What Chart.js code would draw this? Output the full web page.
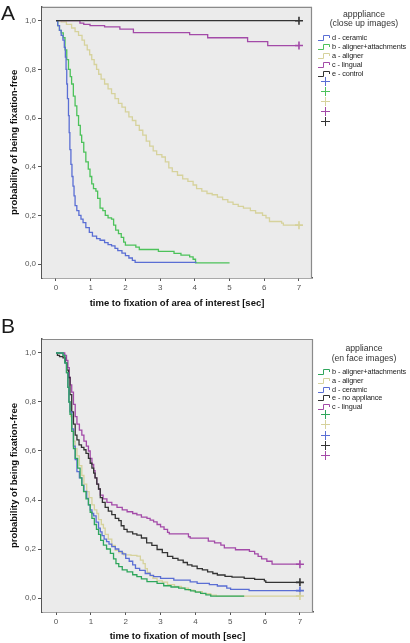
<!DOCTYPE html>
<html>
<head>
<meta charset="utf-8">
<script src="https://cdn.jsdelivr.net/npm/chart.js@4.4.1/dist/chart.umd.min.js"></script>
<style>
body{margin:0;background:#fff;font-family:"Liberation Sans",Arial,sans-serif;}
#wrap{position:relative;width:410px;height:643px;overflow:hidden;}
canvas{position:absolute;left:0;}
#cA{top:0;}
#cB{top:310px;}
.panel{position:absolute;left:1px;font-size:21px;line-height:21px;color:#1a1a1a;}
.ttl{position:absolute;left:318px;width:92px;text-align:center;font-size:8.7px;color:#333;white-space:nowrap;}
.row{position:absolute;left:318px;height:9px;font-size:7.3px;line-height:9px;color:#222;white-space:nowrap;}
.row svg,.plus svg{position:absolute;left:0;top:0;}
.row span{position:absolute;left:14px;top:0;letter-spacing:-0.1px;}
.plus{position:absolute;left:318px;width:14px;height:9px;}
</style>
</head>
<body>
<div id="wrap">
<canvas id="cA" width="410" height="310"></canvas>
<canvas id="cB" width="410" height="333"></canvas>
<div class="panel" style="top:2px">A</div>
<div class="panel" style="top:315px">B</div>
<div id="legA"></div>
<div id="legB"></div>
</div>
<script>
/* axes */
const xTicks=[0,1,2,3,4,5,6,7];
const yTicks=[0,0.2,0.4,0.6,0.8,1.0];

/* colours */
const blue="#5a6ed4", greenA="#4cc25a", greenB="#2fa65c", khaki="#d6d29c", purple="#a34aa8", black="#333333";

/* A: close up images - area of interest */
const aCeramicT=[0,0.05,0.1,0.15,0.2,0.24,0.27,0.29,0.31,0.33,0.36,0.38,0.4,0.43,0.46,0.49,0.52,0.55,0.6,0.66,0.72,0.78,0.86,0.96,1.05,1.17,1.27,1.4,1.5,1.6,1.7,1.78,1.9,2.0,2.1,2.2,2.28,4.05];
const aCeramicS=[1,0.98,0.96,0.94,0.92,0.89,0.85,0.8,0.74,0.68,0.61,0.54,0.47,0.41,0.36,0.32,0.28,0.24,0.22,0.2,0.185,0.17,0.15,0.13,0.115,0.105,0.098,0.088,0.08,0.075,0.065,0.055,0.045,0.035,0.025,0.015,0.007,0.007];
const aAttachT=[0,0.05,0.1,0.15,0.21,0.26,0.31,0.36,0.41,0.45,0.5,0.55,0.6,0.65,0.7,0.74,0.8,0.86,0.93,0.98,1.03,1.08,1.15,1.2,1.27,1.35,1.42,1.5,1.6,1.66,1.72,1.8,1.88,1.95,2.0,2.3,2.4,2.95,3.4,3.6,3.85,3.95,4.02,5.0];
const aAttachS=[1,0.98,0.96,0.95,0.93,0.88,0.84,0.8,0.77,0.74,0.69,0.65,0.61,0.57,0.53,0.5,0.46,0.42,0.39,0.36,0.33,0.31,0.3,0.27,0.23,0.22,0.2,0.19,0.185,0.16,0.14,0.125,0.11,0.09,0.078,0.07,0.06,0.052,0.044,0.037,0.03,0.02,0.005,0.005];
const aAlignerT=[0,0.15,0.3,0.45,0.55,0.65,0.75,0.82,0.9,0.97,1.03,1.1,1.17,1.23,1.3,1.4,1.5,1.6,1.7,1.8,1.9,2.0,2.1,2.2,2.3,2.4,2.5,2.6,2.7,2.8,2.9,3.05,3.15,3.25,3.35,3.5,3.65,3.8,3.95,4.05,4.2,4.35,4.5,4.65,4.8,4.95,5.1,5.25,5.4,5.6,5.75,5.95,6.05,6.15,6.5,6.55,7];
const aAlignerS=[1,0.995,0.985,0.97,0.955,0.94,0.92,0.9,0.88,0.86,0.84,0.82,0.8,0.78,0.76,0.74,0.72,0.7,0.68,0.66,0.645,0.625,0.605,0.59,0.57,0.55,0.53,0.505,0.485,0.465,0.45,0.44,0.42,0.395,0.38,0.365,0.35,0.34,0.325,0.31,0.3,0.29,0.285,0.275,0.265,0.255,0.245,0.237,0.23,0.22,0.21,0.2,0.19,0.175,0.168,0.16,0.16];
const aLingualT=[0,0.69,0.8,0.98,1.4,1.84,2.23,3.85,4.37,5.52,6.1,7];
const aLingualS=[1,0.99,0.985,0.98,0.975,0.965,0.951,0.943,0.93,0.914,0.898,0.898];
const aControlT=[0,7];
const aControlS=[1,1];
const aCensT=[7,7,7];
const aCensS=[1,0.898,0.16];

/* B: en face images - mouth */
const bAttachT=[0,0.2,0.25,0.3,0.34,0.37,0.4,0.45,0.5,0.55,0.62,0.69,0.74,0.79,0.86,0.93,0.98,1.03,1.1,1.16,1.22,1.28,1.36,1.45,1.56,1.65,1.72,1.8,1.9,2.04,2.2,2.32,2.45,2.61,2.9,3.09,3.3,3.52,3.7,3.86,4.0,4.15,4.3,4.44,5.4];
const bAttachS=[1,0.99,0.96,0.92,0.86,0.8,0.75,0.68,0.61,0.57,0.53,0.49,0.46,0.434,0.405,0.38,0.35,0.325,0.3,0.28,0.26,0.235,0.216,0.2,0.182,0.16,0.14,0.128,0.115,0.107,0.095,0.087,0.078,0.067,0.06,0.05,0.045,0.04,0.034,0.029,0.024,0.019,0.013,0.008,0.008];
const bAlignerT=[0,0.22,0.27,0.31,0.35,0.38,0.42,0.46,0.5,0.55,0.6,0.67,0.74,0.8,0.88,0.95,1.03,1.1,1.17,1.22,1.3,1.36,1.41,1.5,1.6,1.7,1.8,1.94,2.15,2.32,2.42,2.5,2.56,2.62,2.7,2.78,2.9,3.05,3.2,3.4,3.6,3.8,3.96,4.2,4.44,4.6,7];
const bAlignerS=[1,0.99,0.96,0.92,0.86,0.8,0.74,0.68,0.64,0.61,0.58,0.54,0.5,0.465,0.434,0.41,0.38,0.36,0.345,0.32,0.3,0.285,0.26,0.24,0.215,0.195,0.185,0.176,0.174,0.171,0.155,0.14,0.12,0.105,0.09,0.08,0.07,0.065,0.055,0.047,0.04,0.032,0.026,0.018,0.012,0.008,0.008];
const bCeramicT=[0,0.2,0.25,0.3,0.34,0.37,0.4,0.45,0.5,0.55,0.6,0.67,0.74,0.8,0.88,0.93,0.98,1.03,1.08,1.15,1.22,1.27,1.32,1.38,1.45,1.52,1.6,1.7,1.8,1.9,2.0,2.1,2.2,2.28,2.4,2.56,2.7,2.8,3.0,3.38,3.85,4.05,4.4,4.63,4.9,5.01,5.54,7];
const bCeramicS=[1,0.99,0.96,0.92,0.86,0.8,0.76,0.69,0.62,0.565,0.516,0.49,0.46,0.435,0.407,0.38,0.36,0.345,0.335,0.31,0.285,0.27,0.255,0.24,0.23,0.22,0.21,0.2,0.19,0.18,0.162,0.15,0.135,0.121,0.113,0.1,0.092,0.087,0.08,0.073,0.066,0.06,0.055,0.049,0.04,0.035,0.03,0.03];
const bNoneT=[0,0.04,0.1,0.2,0.27,0.31,0.36,0.4,0.45,0.5,0.55,0.6,0.66,0.73,0.8,0.86,0.93,0.98,1.03,1.08,1.12,1.17,1.22,1.27,1.33,1.41,1.5,1.6,1.7,1.8,1.87,1.95,2.04,2.2,2.32,2.45,2.6,2.75,2.9,3.05,3.2,3.35,3.5,3.65,3.77,3.9,4.05,4.2,4.35,4.5,4.63,4.85,5.05,5.4,5.7,5.98,6.02,7];
const bNoneS=[1,0.99,0.985,0.98,0.96,0.93,0.9,0.83,0.76,0.71,0.665,0.645,0.625,0.615,0.605,0.59,0.57,0.55,0.53,0.51,0.49,0.465,0.445,0.41,0.39,0.37,0.355,0.34,0.325,0.316,0.295,0.28,0.27,0.262,0.257,0.245,0.225,0.215,0.198,0.185,0.17,0.162,0.155,0.145,0.135,0.13,0.12,0.115,0.107,0.1,0.094,0.088,0.085,0.08,0.076,0.07,0.064,0.064];
const bLingualT=[0,0.25,0.3,0.34,0.38,0.41,0.45,0.5,0.55,0.6,0.67,0.74,0.8,0.87,0.93,0.98,1.03,1.08,1.12,1.17,1.22,1.27,1.35,1.46,1.6,1.75,1.9,2.04,2.2,2.32,2.45,2.61,2.7,2.8,2.9,3.0,3.1,3.2,3.25,3.8,3.85,4.37,4.55,4.73,4.83,5.15,5.55,5.7,5.8,5.9,6.05,6.2,7];
const bLingualS=[1,0.99,0.97,0.94,0.9,0.87,0.84,0.79,0.74,0.71,0.685,0.665,0.64,0.62,0.6,0.57,0.545,0.52,0.49,0.465,0.445,0.42,0.405,0.39,0.38,0.37,0.36,0.352,0.345,0.339,0.33,0.325,0.318,0.311,0.3,0.29,0.28,0.268,0.262,0.25,0.244,0.232,0.225,0.216,0.205,0.197,0.19,0.18,0.17,0.16,0.15,0.138,0.138];
const bCensT=[7,7,7,7];
const bCensS=[0.138,0.064,0.03,0.008];

/* legends */
const legATitle=["apppliance","(close up images)"];
const legALabels=["d - ceramic","b - aligner+attachments","a - aligner","c - lingual","e - control"];
const legAColors=[blue,greenA,khaki,purple,black];
const legBTitle=["appliance","(en face images)"];
const legBLabels=["b - aligner+attachments","a - aligner","d - ceramic","e - no appliance","c - lingual"];
const legBColors=[greenB,khaki,blue,black,purple];

function pts(t,s){ return t.map((v,i)=>({x:v,y:s[i]})); }

function curve(t,s,c){
return {data:pts(t,s),borderColor:c,borderWidth:1.3,pointRadius:0,stepped:true,fill:false};
}

function cens(t,s,cols){
return {data:pts(t,s),showLine:false,pointStyle:"cross",pointRadius:4,pointBorderWidth:1.6,
pointBorderColor:cols,pointBackgroundColor:cols,borderColor:cols};
}

/* background + top/right frame */
const framePlugin={
id:"frame",
beforeDatasetsDraw(c){
let a=c.chartArea,ctx=c.ctx;
ctx.save();
ctx.fillStyle="#ebebeb";
ctx.fillRect(a.left,a.top,a.right-a.left,a.bottom-a.top);
ctx.restore();
},
afterDraw(c){
let a=c.chartArea,ctx=c.ctx;
ctx.save();
ctx.strokeStyle="#8a8a8a";
ctx.lineWidth=1.2;
ctx.beginPath();
ctx.moveTo(a.left,a.top+0.5);
ctx.lineTo(a.right-0.5,a.top+0.5);
ctx.lineTo(a.right-0.5,a.bottom);
ctx.stroke();
ctx.restore();
}
};

function draw(id,datasets,xTitle,padTop,padRight,xHeight){
return new Chart(document.getElementById(id),{
type:"line",
data:{datasets},
options:{
responsive:false,animation:false,devicePixelRatio:1,
layout:{padding:{top:padTop,right:padRight,left:0,bottom:0}},
plugins:{legend:{display:false},tooltip:{enabled:false}},
scales:{
x:{type:"linear",min:-0.403,max:7.375,
afterBuildTicks:s=>{s.ticks=xTicks.map(v=>({value:v}));},
afterFit:s=>{s.height=xHeight;},
grid:{drawOnChartArea:false,tickLength:3,color:"#555",lineWidth:1},
border:{color:"#555",width:1.5},
ticks:{color:"#555",font:{size:8,family:"Liberation Sans"},padding:2,maxRotation:0,callback:v=>String(v)},
title:{display:true,text:xTitle,color:"#111",font:{size:9.5,weight:"bold",family:"Liberation Sans"},padding:{top:0,bottom:1}}
},
y:{min:-0.0571,max:1.0571,
afterBuildTicks:s=>{s.ticks=yTicks.map(v=>({value:v}));},
afterFit:s=>{s.width=42;},
grid:{drawOnChartArea:false,tickLength:4,color:"#555",lineWidth:1},
border:{color:"#555",width:1.5},
ticks:{color:"#555",font:{size:8,family:"Liberation Sans"},padding:2,callback:v=>v.toFixed(1).replace(".",",")},
title:{display:true,text:"probability of being fixation-free",color:"#111",font:{size:9.5,weight:"bold",family:"Liberation Sans"},padding:{top:9,bottom:0}}
}
}
},
plugins:[framePlugin]
});
}

draw("cA",[
curve(aControlT,aControlS,black),
curve(aCeramicT,aCeramicS,blue),
curve(aAttachT,aAttachS,greenA),
curve(aLingualT,aLingualS,purple),
curve(aAlignerT,aAlignerS,khaki),
cens(aCensT,aCensS,[black,purple,khaki])
],"time to fixation of area of interest [sec]",5,98,32);

draw("cB",[
curve(bAttachT,bAttachS,greenB),
curve(bCeramicT,bCeramicS,blue),
curve(bNoneT,bNoneS,black),
curve(bLingualT,bLingualS,purple),
curve(bAlignerT,bAlignerS,khaki),
cens(bCensT,bCensS,[purple,black,blue,khaki])
],"time to fixation of mouth [sec]",29,97,31);

/* legend boxes */
function stepIcon(c){
return `<svg width="13" height="9"><path d="M0 7.5H5.5V2.5H11.5V5" stroke="${c}" stroke-width="1" fill="none"/></svg>`;
}
function plusIcon(c){
return `<svg width="14" height="9" shape-rendering="crispEdges"><path d="M3 4.5H12M7.5 0V9" stroke="${c}" stroke-width="1" fill="none"/></svg>`;
}
function legend(el,title,titleTop,titleLh,labels,colors,rowTop,rowGap,plusTop,plusGap){
let h="";
title.forEach((t,i)=>{
h+=`<div class="ttl" style="top:${titleTop+i*titleLh}px;line-height:${titleLh}px">${t}</div>`;
});
labels.forEach((l,i)=>{
h+=`<div class="row" style="top:${Math.round(rowTop+i*rowGap)}px">${stepIcon(colors[i])}<span>${l}</span></div>`;
});
colors.forEach((c,i)=>{
h+=`<div class="plus" style="top:${Math.round(plusTop+i*plusGap)}px">${plusIcon(c)}</div>`;
});
document.getElementById(el).innerHTML=h;
}
legend("legA",legATitle,10,9,legALabels,legAColors,33,9,77,10);
legend("legB",legBTitle,343,10,legBLabels,legBColors,367,8.75,410,10.25);
</script>
</body>
</html>
